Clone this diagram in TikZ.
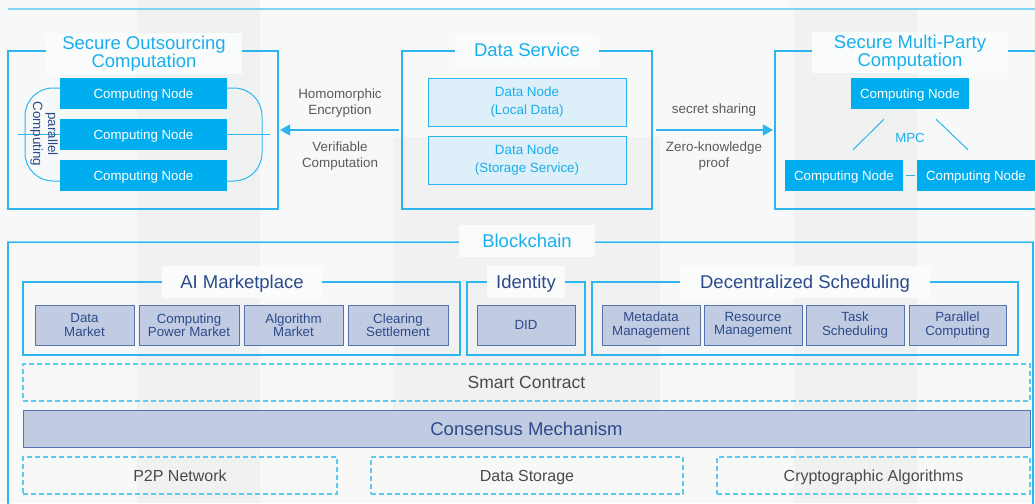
\documentclass[tikz,border=0pt]{standalone}
\usepackage{fontspec}
\setmainfont{Liberation Sans}
\usetikzlibrary{arrows.meta,fit,calc}

\definecolor{bgbase}{HTML}{F7F9F9}
\definecolor{bgband}{HTML}{F0F2F2}
\definecolor{titlebg}{HTML}{FAFCFC}
\definecolor{cyanline}{HTML}{2DB6EE}
\definecolor{paleline}{HTML}{7FD3F3}
\definecolor{cyantext}{HTML}{1AAFEC}
\definecolor{nodefill}{HTML}{00AEEF}
\definecolor{datafill}{HTML}{DDEFF8}
\definecolor{navytext}{HTML}{2C4A8A}
\definecolor{steelfill}{HTML}{C1CCE3}
\definecolor{steelline}{HTML}{5673AD}
\definecolor{greytext}{HTML}{4A4A4A}
\definecolor{labelgrey}{HTML}{5A5A5A}
\definecolor{dashline}{HTML}{5CCBF3}

\tikzset{
  frame/.style={draw=cyanline, line width=1.1pt, inner sep=0pt},
  ttl/.style={fill=titlebg, inner ysep=2.5pt, text=cyantext,
    font=\fontsize{18.5}{16}\selectfont, align=center},
  ttlone/.style={fill=titlebg, inner ysep=9pt, text=cyantext,
    font=\fontsize{18.5}{18}\selectfont, text height=13.3pt, text depth=0pt},
  ttlnavy/.style={fill=titlebg, inner ysep=9pt, text=navytext,
    font=\fontsize{18.5}{18}\selectfont, text height=13.3pt, text depth=0pt},
  cnode/.style={fill=nodefill, text=white, font=\fontsize{13.3}{15}\selectfont,
    minimum height=31pt, inner sep=0pt, text height=9.6pt, text depth=0pt},
  dnode/.style={fill=datafill, draw=cyanline, line width=0.9pt, text=cyantext,
    font=\fontsize{13.4}{18}\selectfont, align=center,
    minimum width=198pt, minimum height=48pt, inner sep=0pt},
  sbox/.style={fill=steelfill, draw=steelline, line width=0.9pt, text=navytext,
    font=\fontsize{13.3}{13.5}\selectfont, align=center,
    minimum width=99pt, minimum height=40pt, inner sep=0pt},
  dbox/.style={draw=dashline, line width=1.2pt, dash pattern=on 5pt off 3pt,
    inner sep=0pt, minimum height=37pt, text=greytext,
    text height=11.5pt, text depth=0pt},
  note/.style={text=labelgrey, font=\fontsize{13.4}{16}\selectfont, align=center},
  link/.style={draw=cyanline, line width=1pt},
  flow/.style={draw=cyanline, line width=1.3pt, -{Triangle[length=10pt,width=11pt]}},
}

\begin{document}
\begin{tikzpicture}[x=1pt,y=-1pt]
\useasboundingbox (0,0) rectangle (1035,503);
\clip (0,0) rectangle (1035,503);

% background and its soft vertical bands
\fill[bgbase] (0,0) rectangle (1035,503);
\fill[bgband] (137,0) rectangle (260,503);
\fill[bgband] (393,137) rectangle (660,446);
\fill[bgband] (794,9) rectangle (917,503);
\fill[titlebg] (260,0) rectangle (789,8);

% rule along the top
\draw[paleline, line width=1.8pt] (8,9) -- (1035,9);

% ---------------- Secure Outsourcing Computation ----------------
\node[frame, fit={(8,51) (278,209)}] (soc) {};
\node[ttl, inner xsep=16pt] (soctitle) at (144,53.5) {Secure Outsourcing\\Computation};
\node[draw=cyanline, line width=1pt, rounded corners=28pt, inner sep=0pt,
      fit={(25,88) (262,181)}] (pill) {};
\coordinate (pl) at ($(pill.west)+(-7,0)$);
\coordinate (pr) at ($(pill.east)+(7,0)$);
\draw[link] (pl) -- (pr);
\node[cnode, minimum width=167pt] (cn1) at (143.5,93.5) {Computing Node};
\node[cnode, minimum width=167pt] (cn2) at (143.5,134.5) {Computing Node};
\node[cnode, minimum width=167pt] (cn3) at (143.5,175.5) {Computing Node};
\node[rotate=-90, text=navytext, align=center, font=\fontsize{13.4}{15}\selectfont]
  (par) at (44,134) {parallel\\Computing};

% ---------------- Data Service ----------------
\node[frame, fit={(402,51) (652,209)}] (ds) {};
\node[ttlone, inner xsep=19pt] (dstitle) at (527,50) {Data Service};
\node[dnode] (dn1) at (527,102.5) {Data Node\\(Local Data)};
\node[dnode] (dn2) at (527,160.5) {Data Node\\(Storage Service)};

% ---------------- Secure Multi-Party Computation ----------------
\node[frame, fit={(775,51) (1050,209)}] (mpc) {};
\node[ttl, inner xsep=22pt] (mpctitle) at (910,52.5) {Secure Multi-Party\\Computation};
\node[cnode, minimum width=118pt] (m1) at (910,93.5) {Computing Node};
\node[cnode, minimum width=118pt] (m2) at (844,175.5) {Computing Node};
\node[cnode, minimum width=118pt] (m3) at (976,175.5) {Computing Node};
\coordinate (m1l) at ($(m1.south)+(-26,10)$);
\coordinate (m1r) at ($(m1.south)+(26,10)$);
\coordinate (m2t) at ($(m2.north)+(9,-10)$);
\coordinate (m3t) at ($(m3.north)+(-8,-10)$);
\draw[link] (m1l) -- (m2t);
\draw[link] (m1r) -- (m3t);
\draw[link, shorten <=3pt, shorten >=2pt] (m2.east) -- (m3.west);
\node[text=cyantext, font=\fontsize{13.2}{15}\selectfont] (mpclabel) at (910,138) {MPC};

% ---------------- flows out of the data service ----------------
\draw[flow, shorten <=2pt, shorten >=1.5pt] (ds.west) -- (soc.east);
\draw[flow, shorten <=3pt, shorten >=1.5pt] (ds.east) -- (mpc.west);
\node[note] (he) at (340,103.5) {Homomorphic\\Encryption};
\node[note] (vc) at (340,156) {Verifiable\\Computation};
\node[note] (ss) at (714,110.5) {secret sharing};
\node[note] (zk) at (714,156) {Zero-knowledge\\proof};

% ---------------- Blockchain ----------------
\node[frame, fit={(8,242) (1033,530)}] (bc) {};
\draw[paleline, line width=1.8pt] (bc.north west) -- (bc.north east);
\node[ttlone, inner xsep=23pt] (bctitle) at (527,241) {Blockchain};

% AI Marketplace
\node[frame, fit={(23,282) (460,355)}] (ai) {};
\node[ttlnavy, inner xsep=18pt] (aititle) at (242,282) {AI Marketplace};
\node[sbox] (a1) at (84.5,325) {Data\\Market};
\node[sbox, minimum width=100pt] (a2) at (189,325) {Computing\\Power Market};
\node[sbox] (a3) at (293.5,325) {Algorithm\\Market};
\node[sbox, minimum width=100pt] (a4) at (398,325) {Clearing\\Settlement};

% Identity
\node[frame, fit={(467,282) (585,355)}] (idn) {};
\node[ttlnavy, inner xsep=9pt] (idtitle) at (526,282) {Identity};
\node[sbox, minimum width=98pt] (did) at (526,325) {DID};

% Decentralized Scheduling
\node[frame, fit={(592,282) (1018,355)}] (sch) {};
\node[ttlnavy, inner xsep=20pt] (schtitle) at (805,282) {Decentralized Scheduling};
\node[sbox, minimum width=98pt] (s1) at (651,325) {Metadata\\Management};
\node[sbox, minimum width=98pt] (s2) at (753,325) {Resource\\Management};
\node[sbox, minimum width=98pt] (s3) at (855,325) {Task\\Scheduling};
\node[sbox, minimum width=97pt] (s4) at (957.5,325) {Parallel\\Computing};

% lower layers
\node[dbox, minimum width=1007pt, font=\fontsize{17.5}{18}\selectfont,
      text height=12.6pt] (sc) at (526.5,382.5) {Smart Contract};
\node[fill=steelfill, draw=steelline, line width=1pt, text=navytext,
      minimum width=1007pt, minimum height=37pt, inner sep=0pt,
      font=\fontsize{18.5}{18}\selectfont, text height=13.3pt, text depth=0pt]
      (cons) at (526.5,428.5) {Consensus Mechanism};
\node[dbox, minimum width=314pt, font=\fontsize{16}{18}\selectfont] (p2p) at (180,475.5) {P2P Network};
\node[dbox, minimum width=312pt, font=\fontsize{16}{18}\selectfont] (dst) at (527,475.5) {Data Storage};
\node[dbox, minimum width=313pt, font=\fontsize{16}{18}\selectfont] (cry) at (873.5,475.5) {Cryptographic Algorithms};
\end{tikzpicture}
\end{document}
